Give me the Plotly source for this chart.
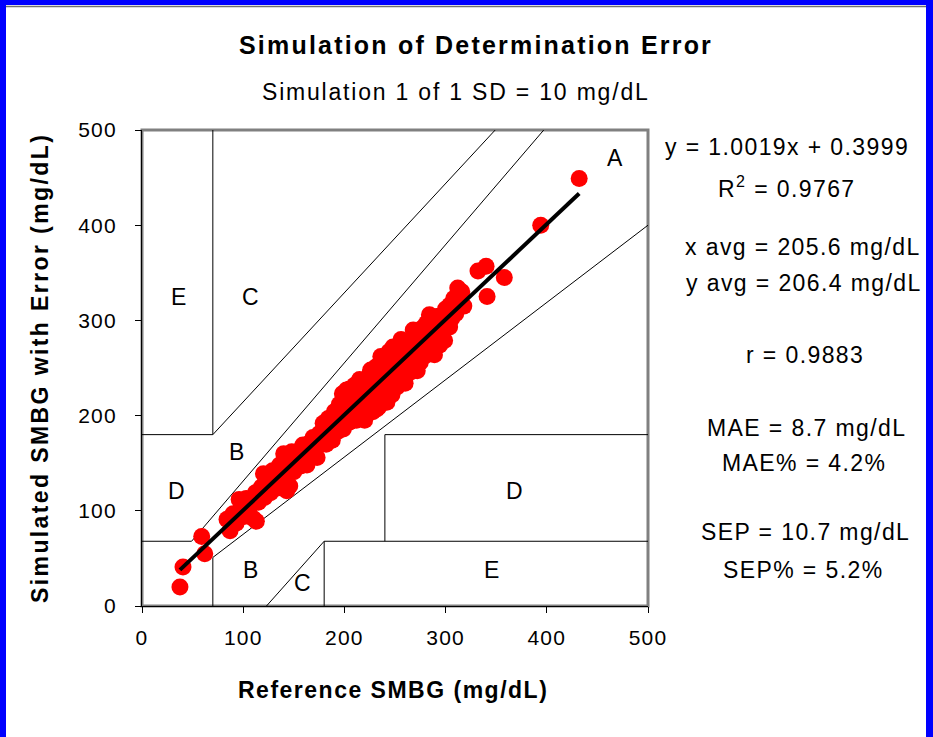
import plotly.graph_objects as go

# ---------------- data ----------------
ref_x = [37.5, 40.5, 59, 62,
         84, 87, 90, 93, 96, 98, 101, 103, 106, 110, 113, 112, 115, 118, 120, 121,
         124, 127, 129, 131, 134, 136, 138, 140, 141, 143, 145, 146, 148, 150, 152,
         155, 157, 159, 161, 163, 165, 167, 169, 171, 173, 175, 177, 179, 181, 182,
         184, 186, 188, 190, 191, 193, 195, 196, 198, 199, 201, 202, 204, 205, 207,
         208, 210, 211, 212, 214, 216, 217, 219, 220, 222, 223, 225, 226, 228, 229,
         231, 232, 234, 235, 237, 238, 240, 241, 243, 244, 246, 247, 249, 250, 252,
         253, 255, 256, 258, 259, 261, 262, 264, 266, 267, 269, 270, 272, 274, 275,
         277, 278, 280, 281, 283, 285, 286, 288, 289, 291, 292, 294, 296, 297, 299,
         300, 302, 304, 306, 308, 310, 312, 314, 316, 318, 304, 278,
         236, 248, 256, 268, 284, 242, 260, 272, 226, 215, 205, 232,
         332, 340, 341, 358, 394, 432]
sim_y = [20, 41, 73, 55,
         91, 79, 97, 87, 112, 103, 94, 113, 104, 92, 89, 119, 109, 125, 139, 114,
         129, 119, 142, 132, 124, 148, 138, 160, 128, 121, 151, 126, 162, 141, 153,
         163, 147, 169, 156, 148, 171, 160, 177, 164, 156, 181, 170, 192, 182, 170,
         197, 185, 174, 204, 192, 183, 212, 199, 223, 186, 207, 227, 216, 193, 223,
         204, 232, 214, 195, 223, 204, 236, 216, 195, 228, 207, 244, 220, 204, 233,
         251, 222, 209, 242, 224, 258, 234, 216, 250, 267, 237, 222, 258, 244, 230,
         266, 251, 236, 268, 255, 242, 274, 258, 246, 279, 263, 253, 284, 268, 256,
         292, 275, 263, 297, 282, 269, 301, 285, 264, 304, 289, 274, 305, 291, 279,
         312, 296, 316, 302, 323, 307, 334, 323, 330, 315, 293, 287,
         262, 272, 280, 290, 306, 214, 234, 247, 248, 238, 228, 207,
         352, 357, 325, 345, 400, 449]

fit_slope = 1.0019
fit_intercept = 0.3999

# Error-grid zone boundaries (None separates segments)
zone_x = [0, 70, None, 70, 70, None, 70, 349, None, 0, 49, None, 49, 397, None,
          70, 70, None, 70, 500, None, 123, 180, None, 180, 180, None, 180, 500, None,
          240, 240, None, 240, 500]
zone_y = [180, 180, None, 180, 500, None, 180, 500, None, 68, 68, None, 68, 500, None,
          0, 51, None, 51, 400, None, 0, 68, None, 0, 68, None, 68, 68, None,
          68, 180, None, 180, 180]

zone_labels = ["A", "E", "C", "B", "D", "D", "B", "C", "E"]
zone_lab_x = [467, 36, 107, 93, 34, 368, 107, 159, 345]
zone_lab_y = [471, 325, 325, 162, 121, 121, 38, 24, 38]

tick_vals = [0, 100, 200, 300, 400, 500]
tick_text = ["0", "100", "200", "300", "400", "500"]

title_text = "Simulation of Determination Error"
subtitle_text = "Simulation 1 of 1 SD = 10 mg/dL"
x_title = "Reference SMBG (mg/dL)"
y_title = "Simulated SMBG with Error (mg/dL)"
stats_lines = ["y = 1.0019x + 0.3999", "R<sup>2</sup> = 0.9767",
               "x avg = 205.6 mg/dL", "y avg = 206.4 mg/dL", "r = 0.9883",
               "MAE = 8.7 mg/dL", "MAE% = 4.2%", "SEP = 10.7 mg/dL", "SEP% = 5.2%"]

# ---------------- layout helpers ----------------
W, H = 933, 737
L, R, T, B = 142, 648, 130, 606
PW, PH = R - L, B - T
FONT = "Liberation Sans, Arial, sans-serif"


def px(x):
    return (x - L) / PW


def py(y):
    return (B - y) / PH


def sp(text, ls):
    return f'<span style="letter-spacing:{ls}px">{text}</span>'


fig = go.Figure()

fig.add_trace(go.Scatter(x=zone_x, y=zone_y, mode="lines",
                         line=dict(color="black", width=1), hoverinfo="skip",
                         showlegend=False, connectgaps=False))

fig.add_trace(go.Scatter(x=ref_x, y=sim_y, mode="markers",
                         marker=dict(color="#FF0000", size=17, line=dict(width=0)),
                         showlegend=False))

x_lo, x_hi = min(ref_x), max(ref_x)
fig.add_trace(go.Scatter(x=[x_lo, x_hi],
                         y=[fit_slope * x_lo + fit_intercept, fit_slope * x_hi + fit_intercept],
                         mode="lines", line=dict(color="black", width=4),
                         showlegend=False))

shapes = [
    dict(type="rect", xref="paper", yref="paper", x0=0, x1=1, y0=0, y1=1,
         line=dict(color="#808080", width=3), layer="below"),
    dict(type="rect", xref="paper", yref="paper", x0=px(0), x1=px(6), y0=py(H), y1=py(0),
         fillcolor="#0000FF", line=dict(width=0)),
    dict(type="rect", xref="paper", yref="paper", x0=px(0), x1=px(W), y0=py(5), y1=py(0),
         fillcolor="#0000FF", line=dict(width=0)),
    dict(type="rect", xref="paper", yref="paper", x0=px(926), x1=px(W), y0=py(H), y1=py(0),
         fillcolor="#0000FF", line=dict(width=0)),
    dict(type="line", xref="paper", yref="paper", x0=px(6), x1=px(926), y0=py(6.5), y1=py(6.5),
         line=dict(color="#707070", width=1.5)),
]

annotations = []
for lab, lx, ly in zip(zone_labels, zone_lab_x, zone_lab_y):
    annotations.append(dict(x=lx, y=ly, xref="x", yref="y", text=lab, showarrow=False,
                            font=dict(family=FONT, size=23, color="black"),
                            xanchor="center", yanchor="middle"))

annotations.append(dict(x=px(476), y=py(45), xref="paper", yref="paper",
                        text=sp(f"<b>{title_text}</b>", 2.2), showarrow=False,
                        font=dict(family=FONT, size=25, color="black"),
                        xanchor="center", yanchor="middle"))
annotations.append(dict(x=px(456), y=py(92), xref="paper", yref="paper",
                        text=sp(subtitle_text, 1.8), showarrow=False,
                        font=dict(family=FONT, size=23, color="black"),
                        xanchor="center", yanchor="middle"))
annotations.append(dict(x=px(393), y=py(690), xref="paper", yref="paper",
                        text=sp(f"<b>{x_title}</b>", 1.5), showarrow=False,
                        font=dict(family=FONT, size=23, color="black"),
                        xanchor="center", yanchor="middle"))
annotations.append(dict(x=px(40), y=py(368), xref="paper", yref="paper",
                        text=sp(f"<b>{y_title}</b>", 2.4), showarrow=False, textangle=-90,
                        font=dict(family=FONT, size=23, color="black"),
                        xanchor="center", yanchor="middle"))

stat_cx = [787, 787, 803, 804, 805, 806, 804, 805, 803]
stat_cy = [147, 187, 247, 283, 355, 428, 463, 532, 570]
for t, cx, cy in zip(stats_lines, stat_cx, stat_cy):
    annotations.append(dict(x=px(cx), y=py(cy), xref="paper", yref="paper",
                            text=sp(t, 1.4), showarrow=False,
                            font=dict(family=FONT, size=23, color="black"),
                            xanchor="center", yanchor="middle"))

axis_common = dict(range=[0, 500], tickvals=tick_vals, ticktext=[sp(t, 1.2) for t in tick_text],
                   ticks="outside", ticklen=6, tickwidth=1, tickcolor="black",
                   showline=True, linecolor="black", linewidth=1,
                   showgrid=False, zeroline=False, fixedrange=True,
                   tickfont=dict(family=FONT, size=21, color="black"))

fig.update_layout(
    width=W, height=H,
    margin=dict(l=L, r=W - R, t=T, b=H - B, pad=0),
    paper_bgcolor="white", plot_bgcolor="white",
    xaxis=dict(**axis_common, ticklabelstandoff=7),
    yaxis=dict(**axis_common, ticklabelstandoff=14),
    shapes=shapes, annotations=annotations,
    showlegend=False,
)

fig.write_html("out.html", config={"displayModeBar": False},
               post_script="document.body.style.margin='0';")
